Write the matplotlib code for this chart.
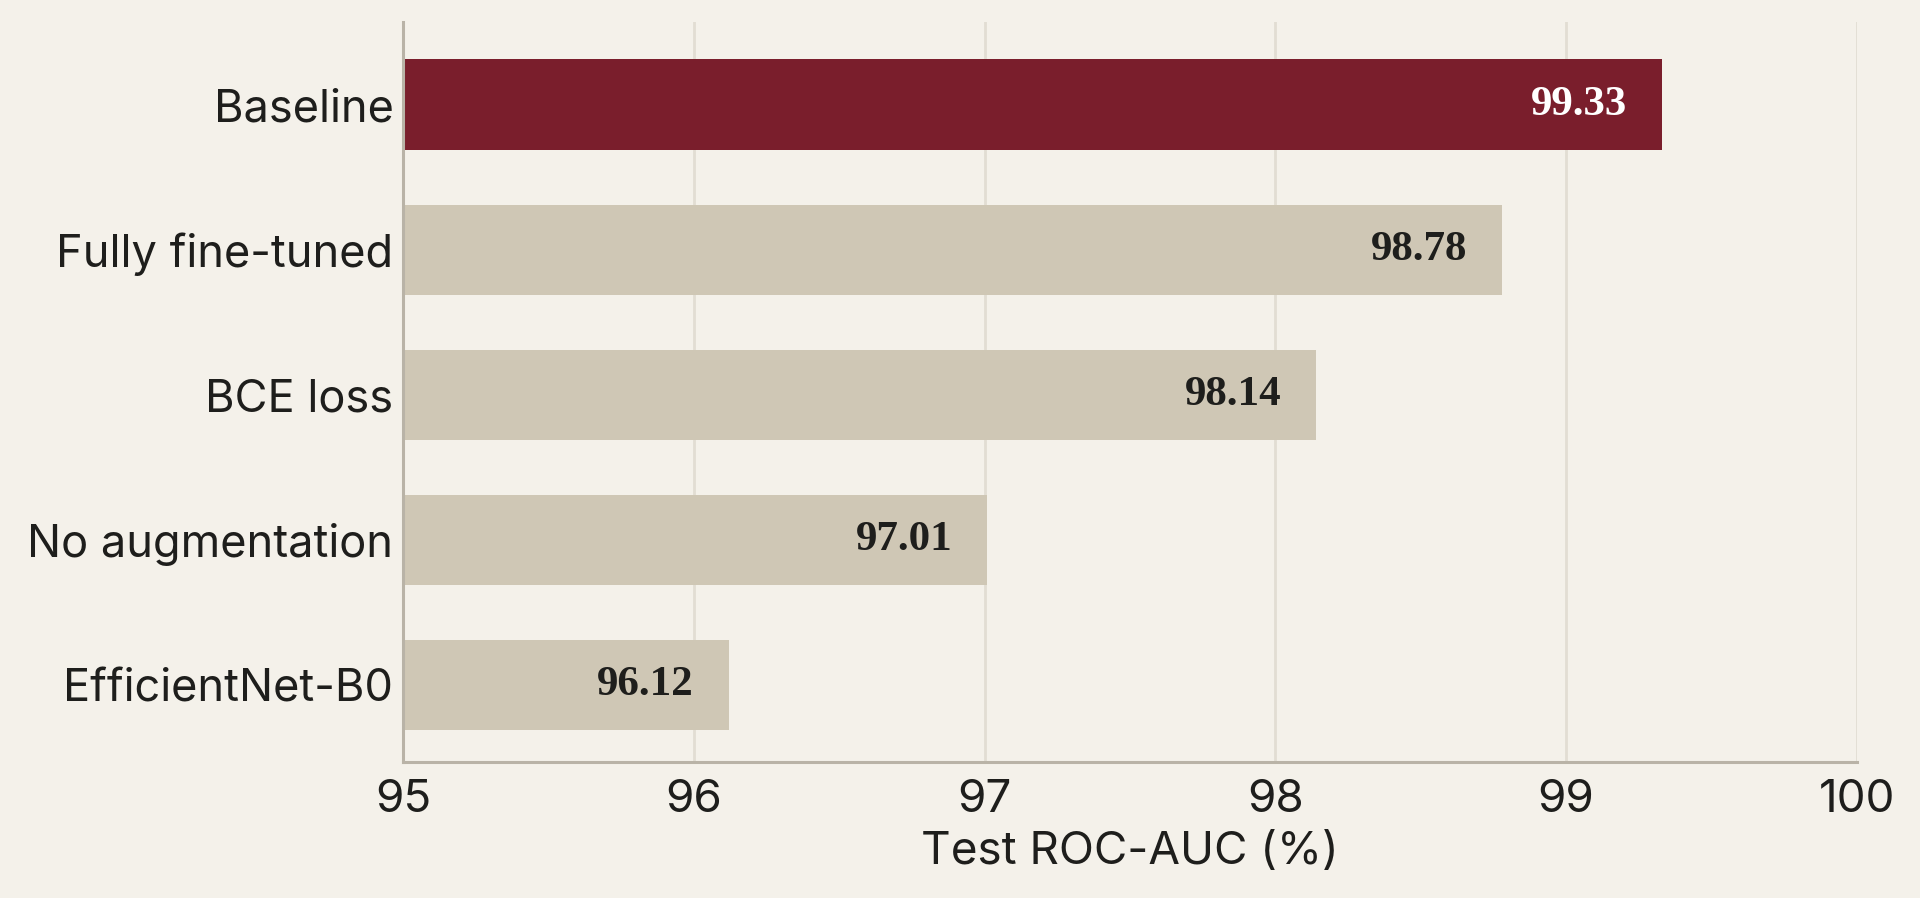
#!/usr/bin/env python
import numpy as np
import matplotlib
matplotlib.use("Agg")
import matplotlib.pyplot as plt

# Test ROC-AUC for ablation variants
names = ["Baseline", "Fully fine-tuned", "BCE loss", "No augmentation", "EfficientNet-B0"]
scores = [99.33, 98.78, 98.14, 97.01, 96.12]
xticks = [95, 96, 97, 98, 99, 100]

BG = "#F4F1EA"
HILITE = "#7A1E2C"
MUTED = "#CFC7B5"
GRID = "#E2DDD3"
SPINE = "#B9B3A7"
TEXT = "#1E1E1C"


def plot_ablation():
    plt.rcParams['font.family'] = ['Inter', 'DejaVu Sans']

    fig = plt.figure(figsize=(19.2, 8.98), dpi=100, facecolor=BG)
    ax = fig.add_axes([0.210, 0.151, 0.757, 0.824])
    ax.set_facecolor(BG)

    ind = np.arange(len(names))
    colors = [HILITE if i == 0 else MUTED for i in ind]
    rects = ax.barh(ind, [s - 95 for s in scores], left=95, height=0.62,
                    color=colors, zorder=3)

    ax.set_xlim(95, 100)
    ax.set_ylim(4.53, -0.565)
    ax.set_xticks(xticks)
    ax.set_xticklabels([str(t) for t in xticks])
    ax.set_yticks(ind)
    ax.set_yticklabels(names)
    ax.tick_params(axis='both', length=0, labelsize=33, colors=TEXT)
    ax.tick_params(axis='y', labelsize=32.5, pad=7)
    ax.tick_params(axis='x', pad=12)
    ax.set_xlabel('Test ROC-AUC (%)', fontsize=33, color=TEXT, labelpad=7)

    ax.grid(axis='x', color=GRID, linewidth=2, zorder=0)
    ax.grid(axis='y', visible=False)
    for side in ['top', 'right']:
        ax.spines[side].set_visible(False)
    for side in ['left', 'bottom']:
        ax.spines[side].set_color(SPINE)
        ax.spines[side].set_linewidth(2.2)
        ax.spines[side].set_zorder(4)

    autolabel(ax, rects, scores)
    fig.savefig('out.png', dpi=100, facecolor=BG)


def autolabel(ax, rects, vals):
    for i, (rect, v) in enumerate(zip(rects, vals)):
        y = rect.get_y() + rect.get_height() / 2.
        ax.text(v - 0.12, y, '%0.2f' % v, ha='right', va='center',
                fontsize=31, fontweight='bold',
                family=['Liberation Serif', 'DejaVu Serif'],
                color='white' if i == 0 else TEXT, zorder=5)


if __name__ == "__main__":
    plot_ablation()
